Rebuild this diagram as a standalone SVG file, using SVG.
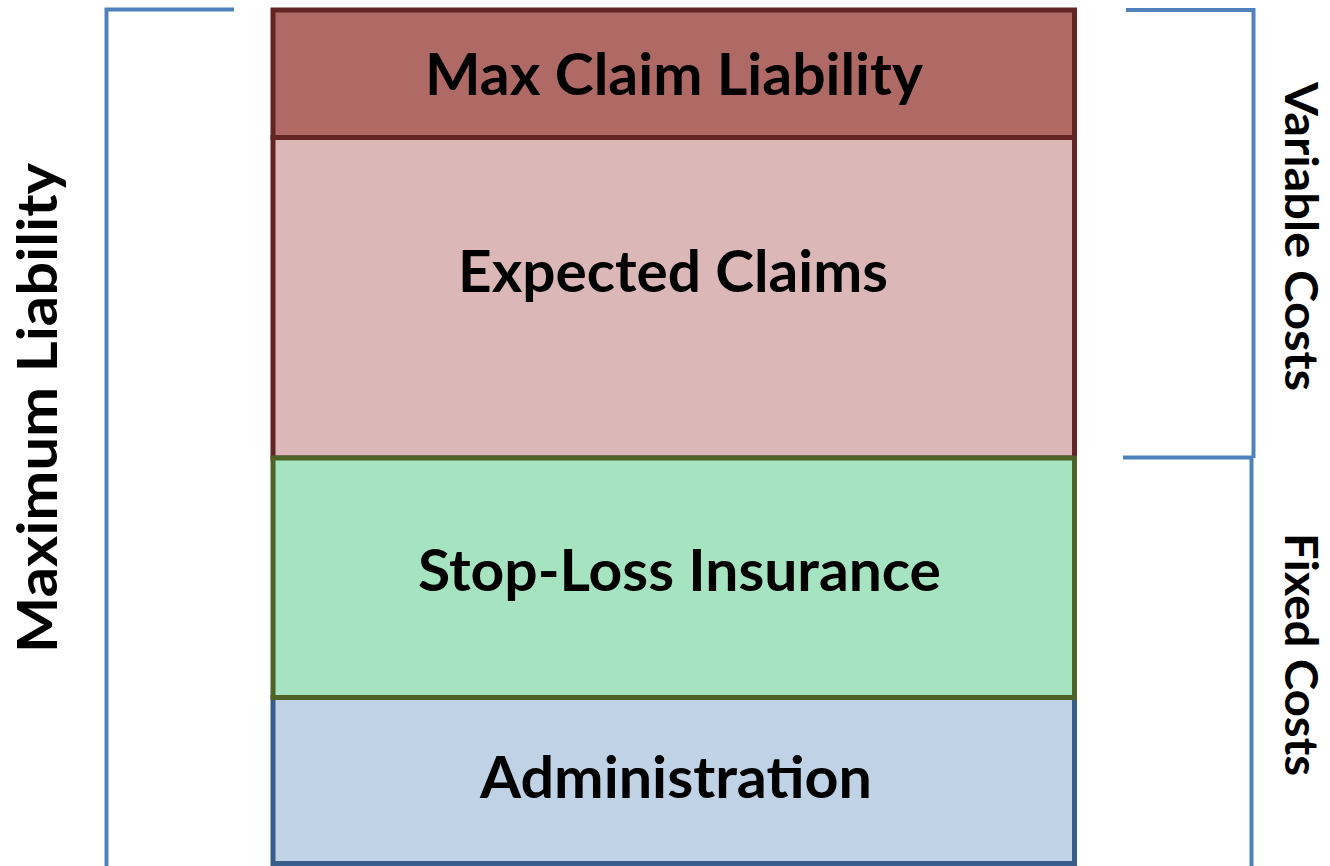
<svg xmlns="http://www.w3.org/2000/svg" width="1330" height="866" viewBox="0 0 1330 866">
  <style>
    .lbl { font-family: Lato, "Open Sans", "Liberation Sans", sans-serif; font-weight: bold; fill: #000000; text-anchor: middle; }
    .big { font-size: 57px; }
    .side { font-size: 45px; }
    .brk { fill: none; stroke: #4F81BD; stroke-width: 4; }
  </style>
  <rect x="0" y="0" width="1330" height="866" fill="#FFFFFF"/>
  <g id="max-claim-liability">
    <rect x="273" y="10" width="801.5" height="127.5" fill="#B06A66" stroke="#632523" stroke-width="5"/>
    <text class="lbl big" x="674" y="95" textLength="498" lengthAdjust="spacingAndGlyphs">Max Claim Liability</text>
  </g>
  <g id="expected-claims">
    <rect x="273" y="137.5" width="801.5" height="320.5" fill="#DBB8B7" stroke="#632523" stroke-width="5"/>
    <text class="lbl big" x="673" y="292" textLength="430" lengthAdjust="spacingAndGlyphs">Expected Claims</text>
  </g>
  <g id="administration">
    <rect x="273" y="697.5" width="801.5" height="166" fill="#C0D2E6" stroke="#385D8A" stroke-width="5"/>
    <text class="lbl big" x="676" y="798" textLength="392" lengthAdjust="spacingAndGlyphs">Administration</text>
  </g>
  <g id="stop-loss-insurance">
    <rect x="273" y="458" width="801.5" height="239.5" fill="#A6E3C1" stroke="#4F6228" stroke-width="5"/>
    <text class="lbl big" x="679.5" y="591" textLength="523" lengthAdjust="spacingAndGlyphs">Stop-Loss Insurance</text>
  </g>
  <g id="connectors">
    <path class="brk" d="M234,9.5 H106.5 V866"/>
    <path class="brk" d="M1126,10 H1253.5 V458"/>
    <path class="brk" d="M1123,457.5 H1251.5 V866"/>
  </g>
  <g id="maximum-liability">
    <text class="lbl" font-size="56" transform="translate(57,408) rotate(-90)" textLength="490" lengthAdjust="spacingAndGlyphs">Maximum Liability</text>
  </g>
  <g id="variable-costs">
    <text class="lbl side" transform="translate(1285,236.5) rotate(90)" textLength="309" lengthAdjust="spacingAndGlyphs">Variable Costs</text>
  </g>
  <g id="fixed-costs">
    <text class="lbl side" transform="translate(1285,654.5) rotate(90)" textLength="243" lengthAdjust="spacingAndGlyphs">Fixed Costs</text>
  </g>
</svg>
